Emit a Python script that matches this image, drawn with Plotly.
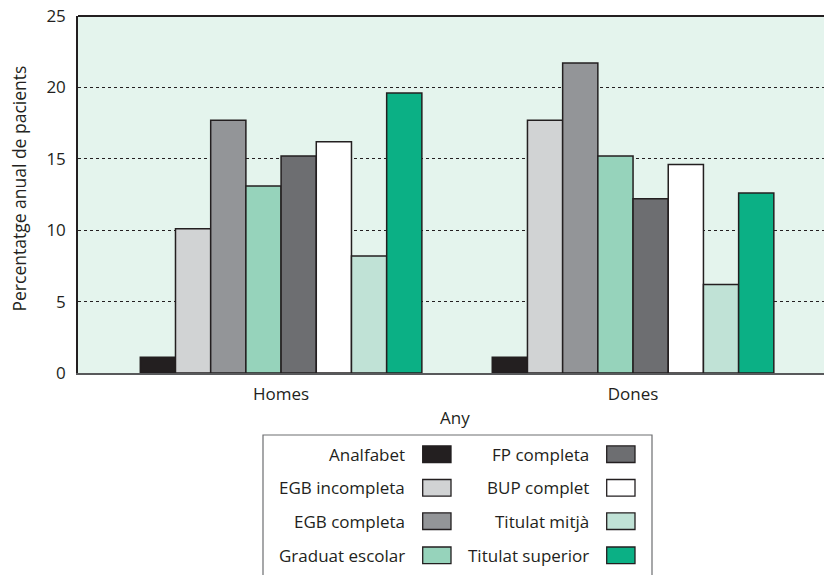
import plotly.graph_objects as go

groups = ["Homes", "Dones"]
levels = ["Analfabet", "EGB incompleta", "EGB completa", "Graduat escolar",
          "FP completa", "BUP complet", "Titulat mitjà", "Titulat superior"]
homes = [1.1, 10.1, 17.7, 13.1, 15.2, 16.2, 8.2, 19.6]
dones = [1.1, 17.7, 21.7, 15.2, 12.2, 14.6, 6.2, 12.6]
colors = ["#231f20", "#d1d3d4", "#939598", "#96d3bb",
          "#6d6e71", "#ffffff", "#c0e2d6", "#0bb085"]
y_ticks = [0, 5, 10, 15, 20, 25]

FONT = "Open Sans"
TXT = "#231f20"
W, H = 832, 575
OFF = 8  # page body margin
L, R, T, B = 78 - OFF, 832, 16 - OFF, 373 - OFF


def px(x):
    return (x - OFF - L) / (R - L)


def py(y):
    return (B - (y - OFF)) / (B - T)


fig = go.Figure()
for i, lvl in enumerate(levels):
    fig.add_trace(go.Bar(
        x=groups, y=[homes[i], dones[i]], name=lvl,
        marker=dict(color=colors[i], line=dict(color="#231f20", width=1.5)),
        showlegend=False,
    ))

shapes = []
annotations = []
# top border
shapes.append(dict(type="line", xref="paper", yref="paper", x0=0, x1=1, y0=1, y1=1,
                   line=dict(color="#231f20", width=2)))
# legend box
shapes.append(dict(type="rect", xref="paper", yref="paper",
                   x0=px(263), x1=px(652), y0=py(435), y1=py(600),
                   line=dict(color="#6d6e71", width=1.2), fillcolor="rgba(0,0,0,0)"))
row_c = [454.2, 487.8, 521.2, 555.3]
sw_x = [(422.7, 451), (606.7, 635)]
txt_x = [407, 591]
for i, lvl in enumerate(levels):
    col, row = i // 4, i % 4
    yc = row_c[row]
    shapes.append(dict(type="rect", xref="paper", yref="paper",
                       x0=px(sw_x[col][0]), x1=px(sw_x[col][1]),
                       y0=py(yc - 8.3), y1=py(yc + 8.3),
                       fillcolor=colors[i], line=dict(color="#231f20", width=1.3)))
    annotations.append(dict(text=lvl, xref="paper", yref="paper", x=px(txt_x[col]), y=py(yc),
                            xanchor="right", yanchor="middle", showarrow=False,
                            font=dict(family=FONT, size=17, color=TXT)))

# axis titles
annotations.append(dict(text="Any", xref="paper", yref="paper", x=px(455), y=py(417),
                        xanchor="center", yanchor="middle", showarrow=False,
                        font=dict(family=FONT, size=17, color=TXT)))
annotations.append(dict(text="Percentatge anual de pacients", xref="paper", yref="paper",
                        x=px(19), y=py(188.5), xanchor="center", yanchor="middle",
                        textangle=-90, showarrow=False,
                        font=dict(family=FONT, size=17.5, color=TXT)))

fig.update_layout(
    width=W, height=H,
    margin=dict(l=L, r=W - R, t=T, b=H - B, pad=0, autoexpand=False),
    paper_bgcolor="white", plot_bgcolor="#e4f4ed",
    font=dict(family=FONT, size=17, color=TXT),
    barmode="group", bargap=0.2, bargroupgap=0,
    shapes=shapes, annotations=annotations,
    xaxis=dict(type="category", range=[-0.577, 1.588], showgrid=False, automargin=False,
               showline=True, linecolor="#58595b", linewidth=2,
               ticks="", ticklabelstandoff=5, tickfont=dict(size=17, color=TXT)),
    yaxis=dict(range=[0, 25], tickvals=y_ticks, showgrid=True, gridcolor="#231f20",
               griddash="dot", gridwidth=1, zeroline=False, automargin=False,
               showline=True, linecolor="#231f20", linewidth=1.5,
               ticks="", ticklabelstandoff=7, ticklabeloverflow="allow",
               tickfont=dict(size=17, color=TXT)),
)

fig.write_html("out.html")
